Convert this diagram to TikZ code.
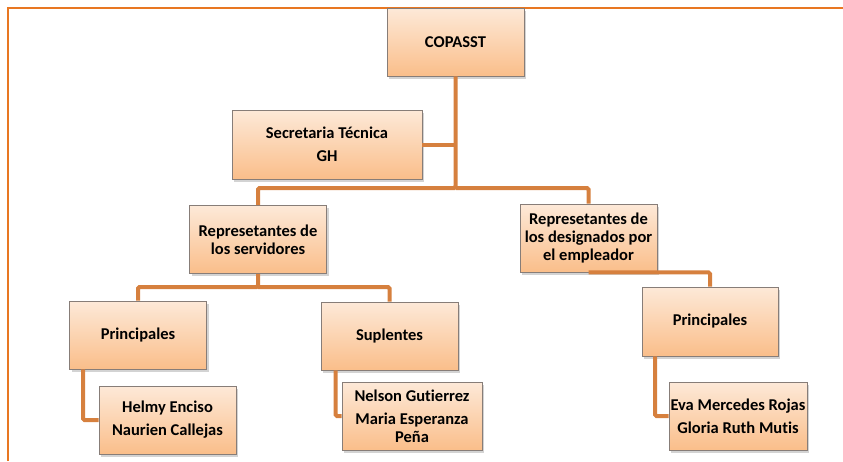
\documentclass[tikz,border=0pt]{standalone}
\usepackage{fontspec}
\setmainfont{Carlito}[RawFeature=-liga]
\usepackage{tikz}
\usetikzlibrary{calc,positioning,shadows}
\definecolor{linkorange}{RGB}{214,128,62}
\definecolor{frameorange}{RGB}{232,119,34}
\definecolor{boxtop}{RGB}{253,233,216}
\definecolor{boxbottom}{RGB}{250,190,138}
\definecolor{boxedge}{RGB}{135,125,120}
\tikzstyle{unit} = [draw=boxedge,line width=0.8pt,top color=boxtop,bottom color=boxbottom,
  minimum width=137pt,minimum height=68pt,inner sep=1pt,align=center,
  font=\fontsize{16.5}{18}\selectfont\bfseries,
  drop shadow={shadow xshift=2pt,shadow yshift=-2.5pt,opacity=0.35}]
\tikzstyle{link} = [draw=linkorange,line width=4pt,rounded corners=1.5pt]
\tikzstyle{frame} = [draw=frameorange,line width=2pt]

\begin{document}
\begin{tikzpicture}[x=1pt,y=-1pt]
  \useasboundingbox (0,0) rectangle (843,461);
  \draw[frame] (8,461) -- (8,8) -- (843,8);

  \node (copasst)[unit] at (455.5,42) {COPASST};
  \node (secre)[unit,minimum width=190pt,minimum height=69pt] at (327,144.5) {Secretaria Técnica\\[5pt] GH};
  \node (servid)[unit] at (258,239.5) {Represetantes de\\ los servidores};
  \node (design)[unit] at (588.5,238) {Represetantes de\\ los designados por\\ el empleador};
  \node (prinA)[unit] at (138,335) {Principales};
  \node (helmy)[unit] at (167.5,420) {Helmy Enciso\\[5pt] Naurien Callejas};
  \node (supl)[unit] at (389.5,336) {Suplentes};
  \node (nelson)[unit,minimum width=140pt] at (412,416) {Nelson Gutierrez\\[5pt] Maria Esperanza\\ Peña};
  \node (prinB)[unit,minimum width=136pt,minimum height=69pt] at (710,321.5) {Principales};
  \node (eva)[unit,minimum width=138pt] at (738,416) {Eva Mercedes Rojas\\[5pt] Gloria Ruth Mutis};

  \coordinate (hub) at (copasst.south |- 0,188);
  \coordinate (hubA) at (servid.south |- 0,287);

  \draw[link] (copasst.south) -- (hub) -| (servid.north);
  \draw[link] (hub) -| (design.north);
  \draw[link] (secre.east) -- (secre.east -| hub);
  \draw[link] (servid.south) -- (hubA) -| (prinA.north);
  \draw[link] (hubA) -| (supl.north);
  \draw[link] (design.south) -| (prinB.north);
  \draw[link] ([xshift=-55pt]prinA.south) |- (helmy.west);
  \draw[link] ([xshift=-54pt]supl.south) |- (nelson.west);
  \draw[link] ([xshift=-55pt]prinB.south) |- (eva.west);
\end{tikzpicture}
\end{document}
